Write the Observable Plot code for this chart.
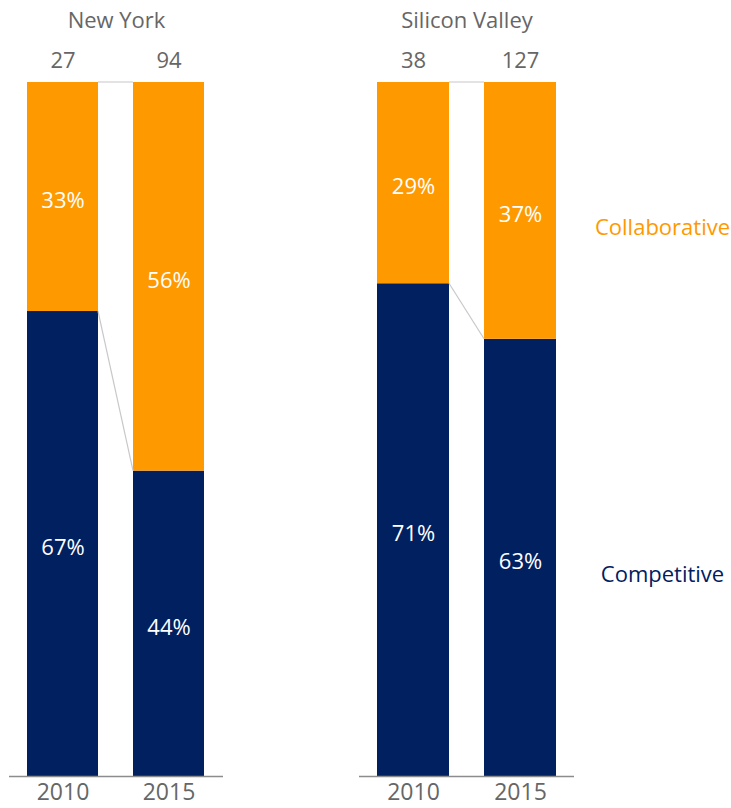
<!DOCTYPE html>
<html>
<head>
<meta charset="utf-8">
<script src="https://cdn.jsdelivr.net/npm/d3@7"></script>
<script src="https://cdn.jsdelivr.net/npm/@observablehq/plot@0.6"></script>
<style>
  html, body { margin: 0; padding: 0; background: #fff; }
  #wrap { display: flex; flex-direction: row; width: 731px; height: 808px; }
  #wrap svg { display: block; }
</style>
</head>
<body>
<div id="wrap"></div>
<script>
// ---- data ----
const cities = ["New York", "Silicon Valley"];
const years = ["2010", "2015"];
const counts = [[27, 94], [38, 127]];            // respondents per bar
const competitive = [[67, 44], [71, 63]];        // % competitive (bottom)
const collaborative = [[33, 56], [29, 37]];      // % collaborative (top)
const styles = ["Competitive", "Collaborative"];
const colors = ["#002060", "#FF9900"];

function cityRows(ci) {
  const rows = [];
  years.forEach((yr, yi) => {
    const comp = competitive[ci][yi] / 100;
    const coll = collaborative[ci][yi] / 100;
    rows.push({year: yr, style: styles[0], value: competitive[ci][yi], y1: 0, y2: comp, mid: comp / 2});
    rows.push({year: yr, style: styles[1], value: collaborative[ci][yi], y1: comp, y2: comp + coll, mid: comp + coll / 2});
  });
  return rows;
}

function makeChart(ci, width, marginLeft, marginRight, withLegend) {
  const rows = cityRows(ci);
  const countRows = years.map((yr, yi) => ({year: yr, n: counts[ci][yi]}));
  const marks = [
    Plot.barY(rows, {x: "year", y1: "y1", y2: "y2", fill: "style"}),
    Plot.ruleY([0], {stroke: "#8c8c8c", strokeWidth: 1.5}),
    Plot.text(rows, {x: "year", y: "mid", text: d => d.value + "%", fill: "white", fontSize: 22, dy: 4, lineAnchor: "middle"}),
    Plot.text(countRows, {x: "year", y: () => 1, text: "n", fill: "#666", fontSize: 22, dy: -22, lineAnchor: "middle"}),
    Plot.text([cities[ci]], {frameAnchor: "top", text: d => d, fill: "#666", fontSize: 22, dy: -62, lineAnchor: "middle"}),
    Plot.axisX({tickSize: 0, tickPadding: 7, fontSize: 23, color: "#666", label: null})
  ];
  if (withLegend) {
    const last = rows.filter(d => d.year === years[years.length - 1]);
    marks.push(Plot.text(last, {
      x: "year", y: "mid", text: "style",
      fill: d => colors[styles.indexOf(d.style)],
      fontSize: 22, dx: 142, dy: 17, textAnchor: "middle", lineAnchor: "middle"
    }));
  }
  const chart = Plot.plot({
    width, height: 808,
    marginTop: 82, marginBottom: 32, marginLeft, marginRight,
    style: {fontFamily: "'Open Sans', sans-serif", fontSize: "22px", background: "white", overflow: "visible"},
    x: {domain: years, paddingInner: 0.327, paddingOuter: 0.164, axis: null, label: null},
    y: {domain: [0, 1], axis: null},
    color: {domain: styles, range: colors},
    marks
  });
  // connector lines between the bars, positioned with Plot's own scales
  const x = chart.scale("x"), y = chart.scale("y");
  const bw = x.bandwidth;
  const svg = d3.select(chart);
  const g = svg.append("g").attr("stroke", "#c8c8c8").attr("stroke-width", 1.2).attr("fill", "none");
  const xa = x.apply(years[0]) + bw, xb = x.apply(years[1]);
  const comp0 = competitive[ci][0] / 100, comp1 = competitive[ci][1] / 100;
  g.append("line").attr("x1", xa).attr("x2", xb).attr("y1", y.apply(1)).attr("y2", y.apply(1));
  g.append("line").attr("x1", xa).attr("x2", xb).attr("y1", y.apply(comp0)).attr("y2", y.apply(comp1));
  return chart;
}

const wrap = document.getElementById("wrap");
wrap.appendChild(makeChart(0, 290, 9, 67, false));
wrap.appendChild(makeChart(1, 441, 69, 157, true));
</script>
</body>
</html>
